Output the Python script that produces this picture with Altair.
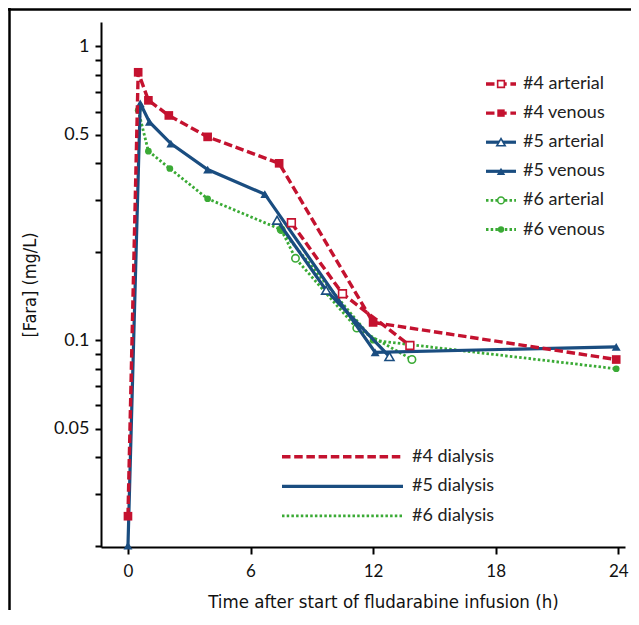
import altair as alt
import pandas as pd

RED = "#C4122F"
BLUE = "#1A4D80"
GREEN = "#3AAA35"

# Patient #4
t4_ven = [0, 0.5, 1.0, 2.0, 3.9, 7.4, 12.0, 23.9]
c4_ven = [0.0252, 0.816, 0.655, 0.582, 0.492, 0.400, 0.115, 0.086]
t4_art = [8.0, 10.5, 13.8]
c4_art = [0.251, 0.144, 0.096]
# Patient #5
t5_ven = [0, 0.6, 1.05, 2.1, 3.9, 6.7, 12.1, 23.9]
c5_ven = [0.02, 0.64, 0.553, 0.467, 0.381, 0.314, 0.091, 0.095]
t5_art = [7.3, 9.7, 12.8]
c5_art = [0.256, 0.148, 0.088]
# Patient #6
t6_ven = [0.5, 1.0, 2.05, 3.9, 7.5, 12.0, 23.9]
c6_ven = [0.606, 0.44, 0.384, 0.303, 0.238, 0.100, 0.080]
t6_art = [7.5, 8.2, 11.2, 13.9]
c6_art = [0.238, 0.19, 0.11, 0.086]

x_ticks = [0, 6, 12, 18, 24]
y_ticks = [0.02, 0.03, 0.04, 0.05, 0.06, 0.07, 0.08, 0.09, 0.1,
           0.2, 0.3, 0.4, 0.5, 0.6, 0.7, 0.8, 0.9, 1]
y_labels = [1, 0.5, 0.1, 0.05]

legend_top = ["#4 arterial", "#4 venous", "#5 arterial", "#5 venous", "#6 arterial", "#6 venous"]
legend_bottom = ["#4 dialysis", "#5 dialysis", "#6 dialysis"]

DASH = [8.5, 3.7]
DOT = [2.5, 2.2]
COND = "DejaVu Sans Condensed"
LAB = "Lato"

xs = alt.Scale(domain=[-1.32, 24.33], nice=False, zero=False)
ys = alt.Scale(type="log", domain=[0.0198, 1.21], nice=False)

label_test = " || ".join(f"abs(datum.value - {v}) < 1e-9" for v in y_labels)

xaxis = alt.Axis(values=x_ticks, title="Time after start of fludarabine infusion (h)",
                 grid=False, domainColor="black", domainWidth=2, tickColor="black",
                 tickWidth=2, tickSize=7, labelFontSize=17, labelFont=LAB,
                 labelColor="#111", labelPadding=9, titleFont=COND,
                 titleFontSize=18.5, titleFontWeight="normal", titleColor="#111",
                 titleX=282, titleAlign="center", titlePadding=13)
yaxis = alt.Axis(values=y_ticks, title="[Fara] (mg/L)", grid=False,
                 labelExpr=f"({label_test}) ? datum.label : ''",
                 domainColor="black", domainWidth=2, tickColor="black", tickWidth=2,
                 tickSize=6, labelFontSize=18, labelFont=LAB, labelColor="#111",
                 labelPadding=6, titleFont=COND, titleFontSize=18,
                 titleFontWeight="normal", titleColor="#111", titlePadding=14)


def series(t, c, color, dash, width, shape, filled, size):
    df = pd.DataFrame({"t": t, "c": c})
    base = alt.Chart(df).encode(
        x=alt.X("t:Q", scale=xs, axis=xaxis),
        y=alt.Y("c:Q", scale=ys, axis=yaxis),
    )
    kw = dict(color=color, strokeWidth=width, clip=True)
    if dash:
        kw["strokeDash"] = dash
    line = base.mark_line(**kw)
    if filled:
        pts = base.mark_point(shape=shape, filled=True, color=color, size=size, opacity=1)
    else:
        pts = base.mark_point(shape=shape, filled=True, fill="white", stroke=color,
                              strokeWidth=1.6, size=size, opacity=1)
    return [line, pts]


layers = []
layers += series(t6_art, c6_art, GREEN, DOT, 2.8, "circle", False, 55)
layers += series(t6_ven, c6_ven, GREEN, DOT, 2.8, "circle", True, 45)
layers += series(t5_art, c5_art, BLUE, None, 3.2, "triangle-up", False, 80)
layers += series(t5_ven, c5_ven, BLUE, None, 3.2, "triangle-up", True, 80)
layers += series(t4_art, c4_art, RED, DASH, 3.4, "square", False, 60)
layers += series(t4_ven, c4_ven, RED, DASH, 3.4, "square", True, 75)

one = pd.DataFrame({"a": [0]})

# top-right legend
styles = [
    (RED, DASH, 3.4, "square", False, 45),
    (RED, DASH, 3.4, "square", True, 55),
    (BLUE, None, 3.2, "triangle-up", False, 70),
    (BLUE, None, 3.2, "triangle-up", True, 70),
    (GREEN, DOT, 2.8, "circle", False, 45),
    (GREEN, DOT, 2.8, "circle", True, 40),
]
for i, (lab, st) in enumerate(zip(legend_top, styles)):
    color, dash, w, shape, filled, size = st
    yv = 62 + 29.1 * i
    kw = dict(color=color, strokeWidth=w)
    if dash:
        kw["strokeDash"] = dash
    layers.append(alt.Chart(one).mark_rule(**kw).encode(
        x=alt.value(385), x2=alt.value(415), y=alt.value(yv)))
    if filled:
        layers.append(alt.Chart(one).mark_point(shape=shape, filled=True, color=color,
                                                size=size, opacity=1).encode(
            x=alt.value(400), y=alt.value(yv)))
    else:
        layers.append(alt.Chart(one).mark_point(shape=shape, filled=True, fill="white",
                                                stroke=color, strokeWidth=1.6, size=size,
                                                opacity=1).encode(
            x=alt.value(400), y=alt.value(yv)))
    layers.append(alt.Chart(one).mark_text(text=lab, align="left", baseline="middle",
                                           font=LAB, fontSize=18, color="#222").encode(
        x=alt.value(422), y=alt.value(yv)))

# bottom legend
bstyles = [(RED, DASH, 3.4), (BLUE, None, 3.2), (GREEN, DOT, 2.8)]
for i, (lab, st) in enumerate(zip(legend_bottom, bstyles)):
    color, dash, w = st
    yv = 434.7 + 29.6 * i
    kw = dict(color=color, strokeWidth=w)
    if dash:
        kw["strokeDash"] = dash
    layers.append(alt.Chart(one).mark_rule(**kw).encode(
        x=alt.value(181), x2=alt.value(302), y=alt.value(yv)))
    layers.append(alt.Chart(one).mark_text(text=lab, align="left", baseline="middle",
                                           font=LAB, fontSize=18, color="#222").encode(
        x=alt.value(311), y=alt.value(yv)))

# figure frame (top and left edges)
layers.append(alt.Chart(one).mark_rule(color="black", strokeWidth=2.5).encode(
    x=alt.value(-93), x2=alt.value(540), y=alt.value(-12.5)))
layers.append(alt.Chart(one).mark_rule(color="black", strokeWidth=2.5).encode(
    x=alt.value(-91.5), y=alt.value(-14), y2=alt.value(605)))

chart = alt.layer(*layers).properties(
    width=524, height=525,
    autosize=alt.AutoSizeParams(type="none"),
    padding={"left": 93, "top": 14, "right": 6, "bottom": 63},
).configure(background="white", view=alt.ViewConfig(stroke=None))

chart.save("out.html", embed_options={"renderer": "svg", "actions": False})
